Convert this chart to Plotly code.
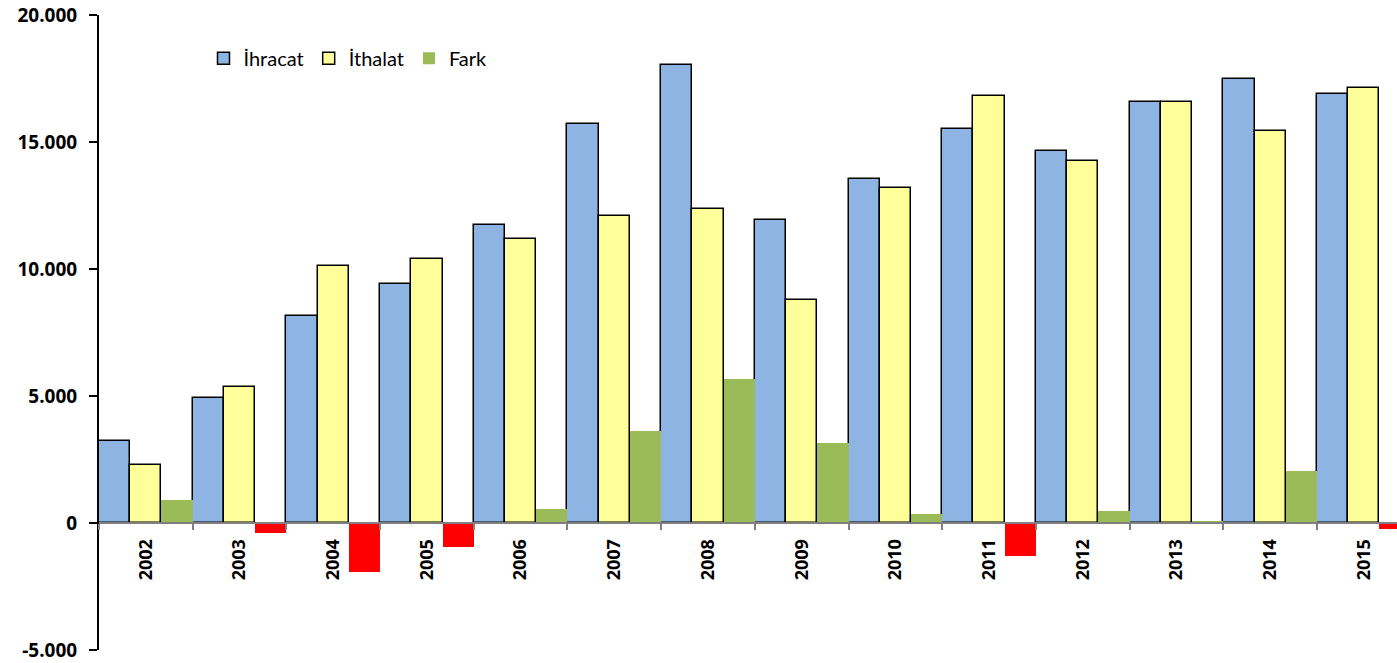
import plotly.graph_objects as go

years = ["2002", "2003", "2004", "2005", "2006", "2007", "2008", "2009",
         "2010", "2011", "2012", "2013", "2014", "2015"]
ihracat = [3230, 4920, 8150, 9410, 11730, 15710, 18030, 11930,
           13540, 15510, 14650, 16560, 17480, 16890]
ithalat = [2280, 5350, 10120, 10390, 11180, 12090, 12360, 8780,
           13190, 16810, 14250, 16560, 15430, 17130]
fark = [900, -400, -1930, -950, 550, 3620, 5670, 3150,
        350, -1300, 470, 80, 2050, -240]
y_tickvals = [-5000, 0, 5000, 10000, 15000, 20000]
y_ticktext = ["-5.000", "0", "5.000", "10.000", "15.000", "20.000"]

fark_colors = ["#9BBB59" if v >= 0 else "#FF0000" for v in fark]

fig = go.Figure()
fig.add_trace(go.Bar(name="İhracat", x=years, y=ihracat,
                     marker=dict(color="#8EB4E3", line=dict(color="black", width=1.5))))
fig.add_trace(go.Bar(name="İthalat", x=years, y=ithalat,
                     marker=dict(color="#FFFF99", line=dict(color="black", width=1.5))))
fig.add_trace(go.Bar(name="Fark", x=years, y=fark,
                     marker=dict(color=fark_colors, line=dict(width=0))))

fig.update_layout(
    width=1397, height=663,
    margin=dict(l=99, r=0, t=15, b=13, autoexpand=False),
    paper_bgcolor="white", plot_bgcolor="white",
    barmode="group", bargap=0, bargroupgap=0,
    font=dict(family="Lato", size=20, color="black"),
    showlegend=True,
    legend=dict(orientation="h", x=0.0805, y=0.932, xanchor="left", yanchor="middle",
                font=dict(family="Lato", size=20, color="black"),
                bgcolor="rgba(0,0,0,0)", traceorder="normal"),
    xaxis=dict(
        type="category", range=[-0.5, 13.354], automargin=False,
        anchor="free", position=0.2,
        showline=True, linecolor="#808080", linewidth=2,
        ticks="outside", tickson="boundaries", ticklen=6, tickcolor="#808080", tickwidth=2,
        tickangle=-90, ticklabelstandoff=8, ticklabeloverflow="allow",
        tickfont=dict(family="Open Sans", size=18, color="black", weight=700),
        showgrid=False, zeroline=False,
    ),
    yaxis=dict(
        range=[-5000, 20000], tickvals=y_tickvals, ticktext=y_ticktext, automargin=False,
        showline=True, linecolor="black", linewidth=2,
        ticks="outside", ticklen=8, tickcolor="black", tickwidth=2, ticklabelstandoff=8,
        ticklabeloverflow="allow",
        tickfont=dict(family="Open Sans", size=19, color="black", weight=700),
        showgrid=False, zeroline=False,
    ),
)

fig.write_html("out.html",
               config={"displayModeBar": False},
               post_script="document.body.style.margin='0';document.body.style.padding='0';")
